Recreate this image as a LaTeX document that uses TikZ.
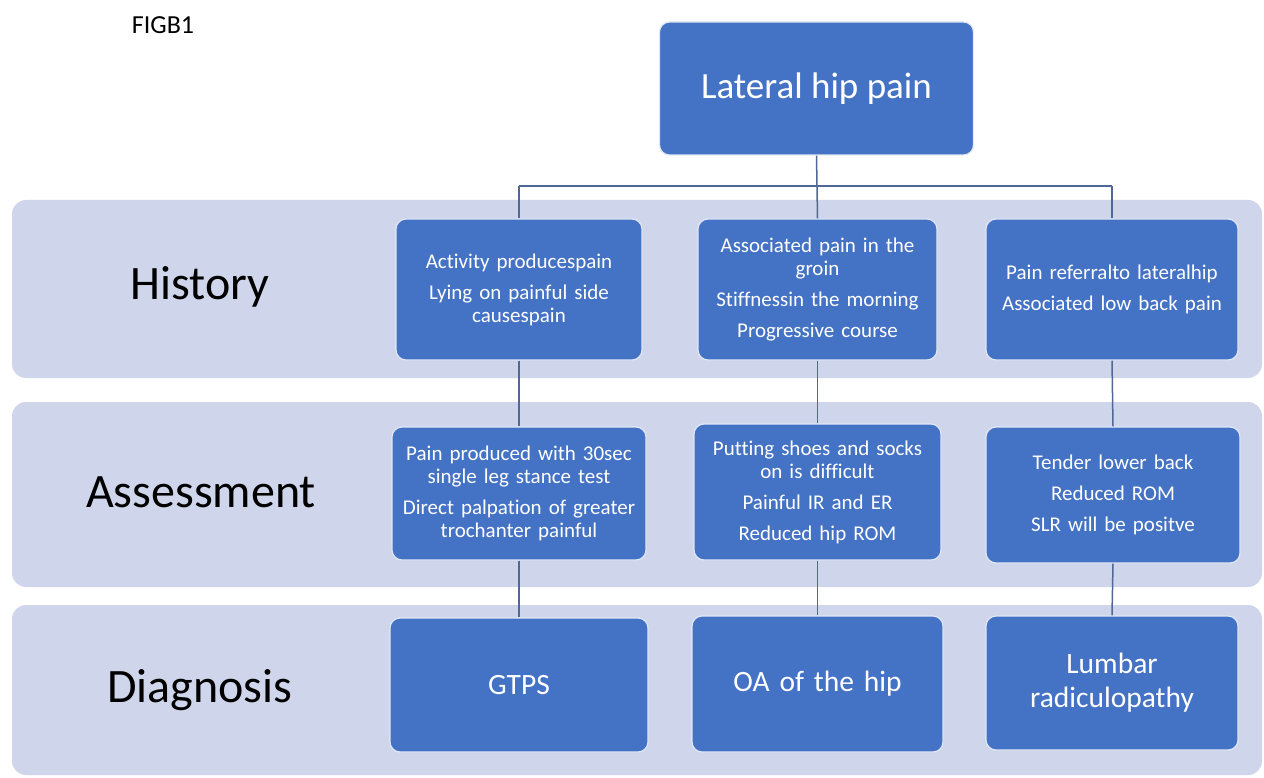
\documentclass[tikz,border=0pt]{standalone}
\usepackage{fontspec}
\setmainfont{Carlito}[Ligatures=NoCommon]
\begin{document}
\begin{tikzpicture}[x=1pt,y=-1pt,
  bandfill/.style={fill={rgb,255:red,207;green,213;blue,234}, rounded corners=14pt},
  bluebox/.style={fill={rgb,255:red,68;green,114;blue,196}, draw={rgb,255:red,225;green,232;blue,245}, line width=1.2pt, rounded corners=10pt, text=white, align=center, inner sep=0pt},
  smalltxt/.style={font=\fontsize{21}{23}\selectfont},
  bigtxt/.style={font=\fontsize{29.5}{34}\selectfont},
  rowlabel/.style={font=\fontsize{48}{56}\selectfont, text=black, inner sep=0pt},
  conn/.style={draw={rgb,255:red,80;green,104;blue,152}, line width=1.5pt}]
\useasboundingbox (0,0) rectangle (1264,778);
\fill[white] (0,0) rectangle (1264,778);
% bands
\fill[bandfill] (12,200) rectangle (1262,378);
\fill[bandfill] (12,402) rectangle (1262,587);
\fill[bandfill] (12,605) rectangle (1262,775);
% figure label
\node[font=\fontsize{26}{30}\selectfont, inner sep=0pt] (fig) at (163,25) {FIGB1};
% row labels
\node[rowlabel] (lh) at (200,287) {History};
\node[rowlabel] (la) at (201,492) {Assessment};
\node[rowlabel] (ld) at (200,690) {Diagnosis};
% title
\node[bluebox, font=\fontsize{37}{42}\selectfont, minimum width=314pt, minimum height=133pt] (t) at (816.5,88.5) {Lateral hip pain};
% history
\node[bluebox, smalltxt, minimum width=246pt, minimum height=141pt, text width=238pt] (h1) at (519,289.5)
  {Activity producespain\\[8pt] Lying on painful side\\ causespain};
\node[bluebox, smalltxt, minimum width=239pt, minimum height=141pt, text width=234pt] (h2) at (817.5,289.5)
  {Associated pain in the\\ groin\\[8pt] Stiffnessin the morning\\[8pt] Progressive course};
\node[bluebox, smalltxt, minimum width=252pt, minimum height=141pt, text width=246pt] (h3) at (1112,289.5)
  {Pain referralto lateralhip\\[8pt] Associated low back pain};
% assessment
\node[bluebox, smalltxt, minimum width=254pt, minimum height=133pt, text width=248pt] (a1) at (519,493.5)
  {Pain produced with 30sec\\ single leg stance test\\[8pt] Direct palpation of greater\\ trochanter painful};
\node[bluebox, smalltxt, minimum width=247pt, minimum height=136pt, text width=242pt] (a2) at (817.5,492)
  {Putting shoes and socks\\ on is difficult\\[8pt] Painful IR and ER\\[8pt] Reduced hip ROM};
\node[bluebox, smalltxt, minimum width=254pt, minimum height=136pt, text width=248pt] (a3) at (1113,495)
  {Tender lower back\\[8pt] Reduced ROM\\[8pt] SLR will be positve};
% diagnosis
\node[bluebox, bigtxt, minimum width=258pt, minimum height=134pt, text width=250pt] (d1) at (519,685) {GTPS};
\node[bluebox, bigtxt, minimum width=251pt, minimum height=136pt, text width=244pt] (d2) at (817.5,684) {OA of the hip};
\node[bluebox, bigtxt, minimum width=252pt, minimum height=134pt, text width=244pt] (d3) at (1112,683) {Lumbar\\ radiculopathy};
% connectors
\coordinate (jl) at (519,186);
\coordinate (jm) at (817,186);
\coordinate (jr) at (1112,186);
\draw[conn] (t.south) -- (jm);
\draw[conn] (jl) -- (jr);
\draw[conn] (jl) -- (h1.north);
\draw[conn] (jm) -- (h2.north);
\draw[conn] (jr) -- (h3.north);
\draw[conn] (h1.south) -- (a1.north);
\draw[conn] (h2.south) -- (a2.north);
\draw[conn] (h3.south) -- (a3.north);
\draw[conn] (a1.south) -- (d1.north);
\draw[conn] (a2.south) -- (d2.north);
\draw[conn] (a3.south) -- (d3.north);
\end{tikzpicture}
\end{document}
